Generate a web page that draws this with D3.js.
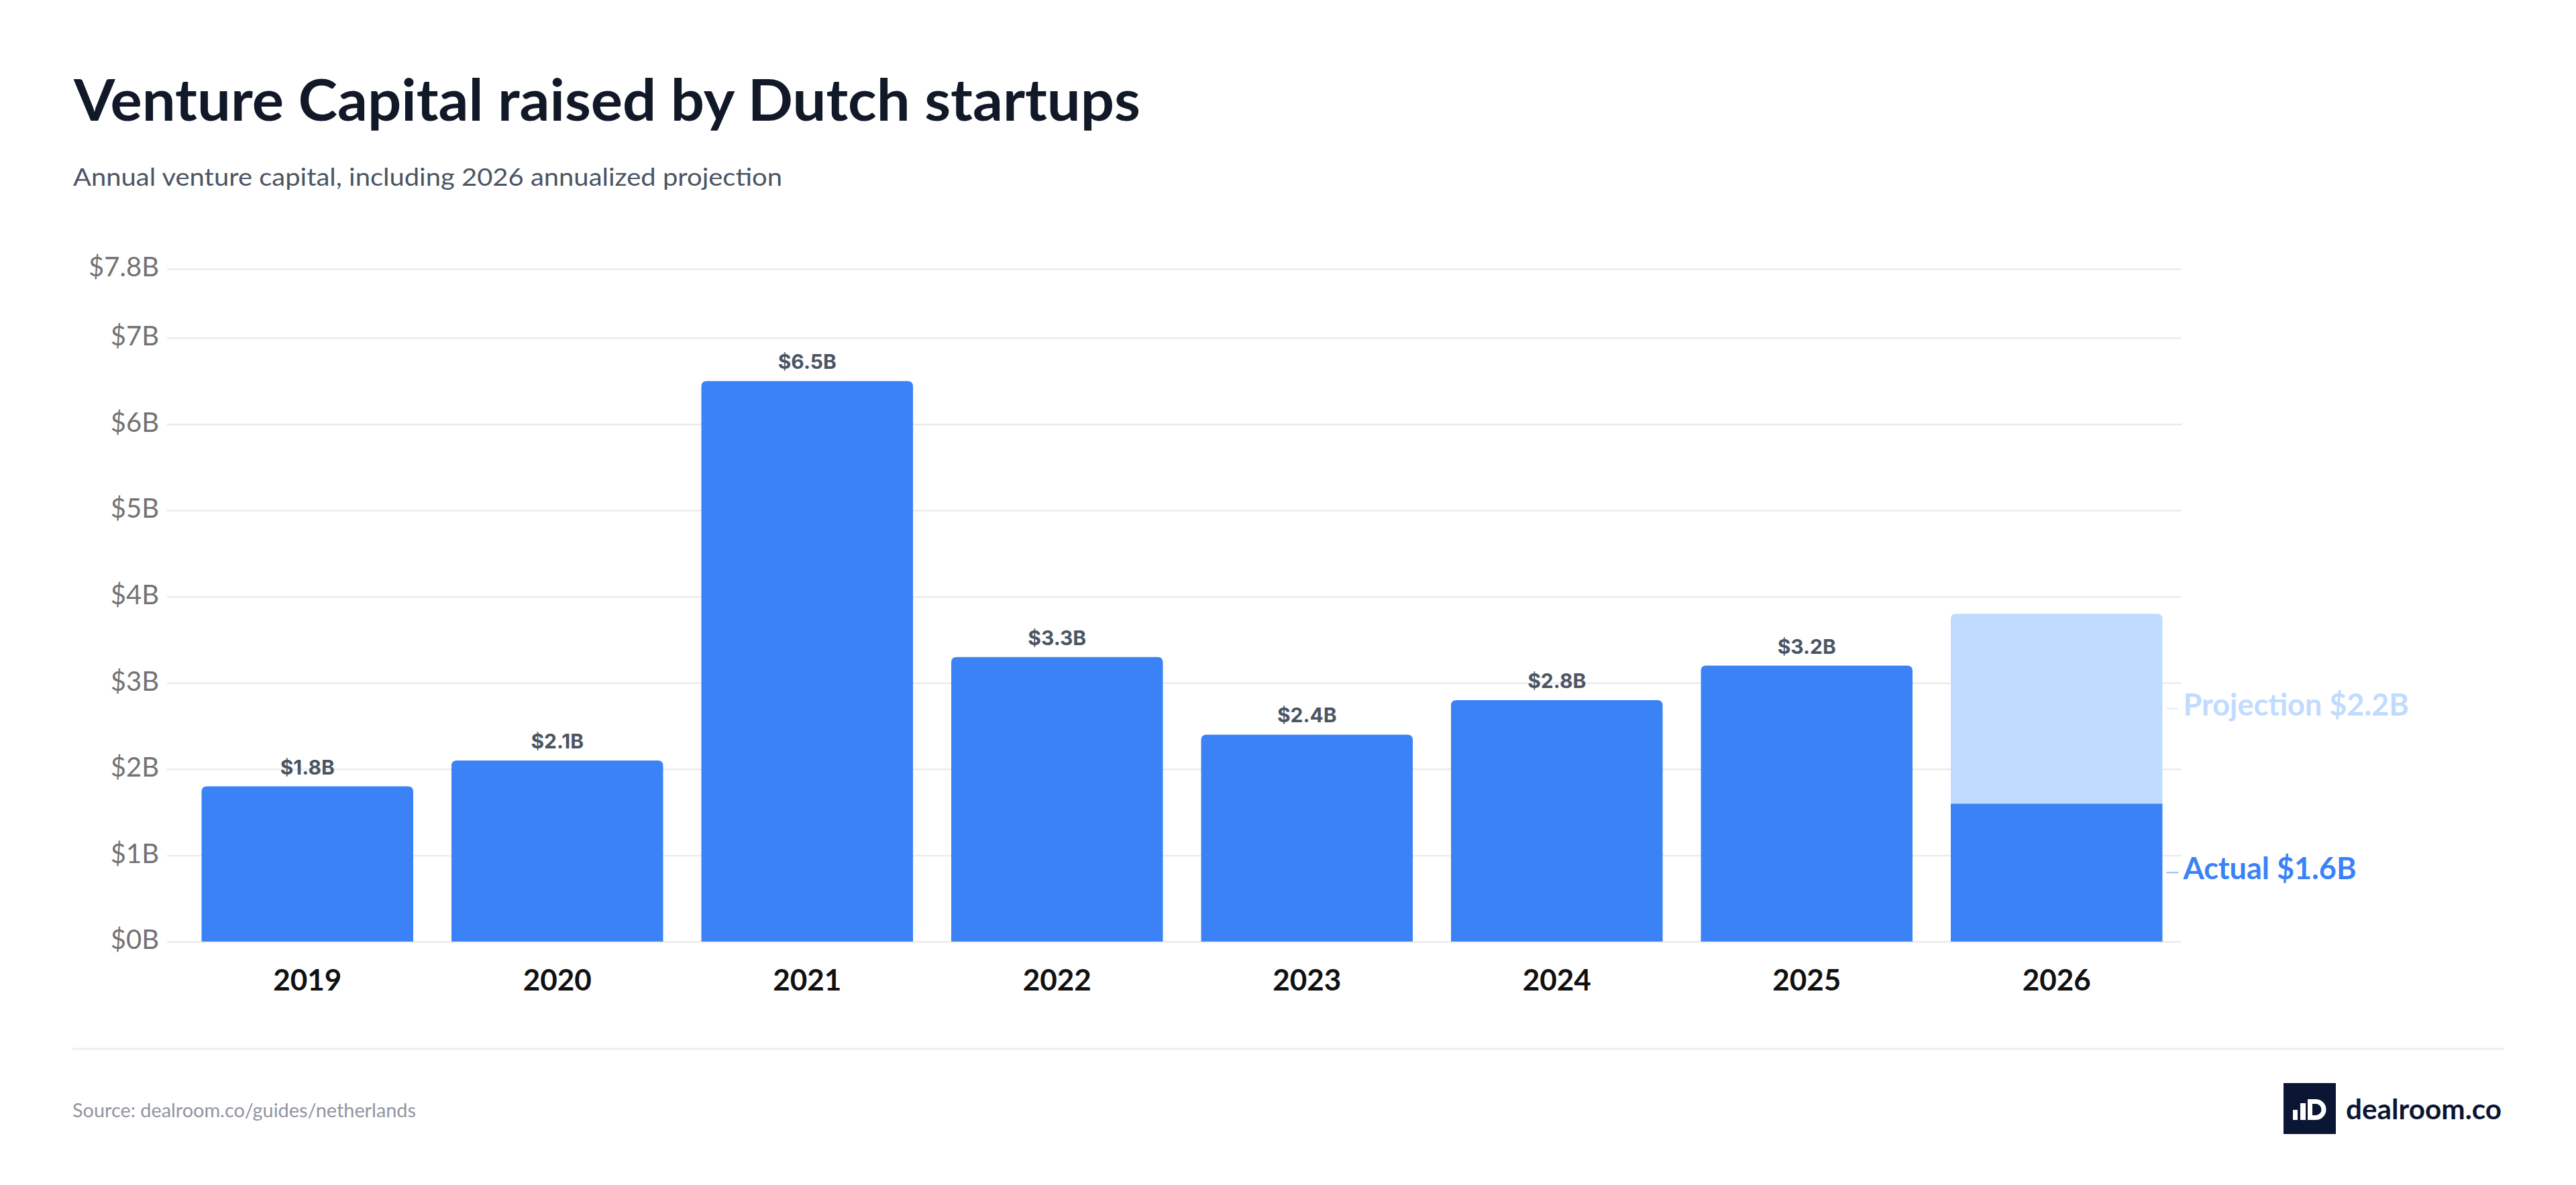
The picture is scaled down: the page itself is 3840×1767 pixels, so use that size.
<!DOCTYPE html>
<html>
<head>
<meta charset="utf-8">
<script src="https://cdn.jsdelivr.net/npm/d3@7"></script>
<style>
  body { margin: 0; background: #ffffff; }
  svg { display: block; }
</style>
</head>
<body>
<div id="chart"></div>
<script>
// values (billions of USD)
var years = ["2019", "2020", "2021", "2022", "2023", "2024", "2025", "2026"];
var actual = [1.8, 2.1, 6.5, 3.3, 2.4, 2.8, 3.2, 1.6];
var projection = [0, 0, 0, 0, 0, 0, 0, 2.2];
var yTicks = [0, 1, 2, 3, 4, 5, 6, 7, 7.8];
var yMax = 7.8;

var svgWidth = 3840;
var svgHeight = 1767;

var plot = { left: 249, right: 3252, top: 401, bottom: 1404 };

var svg = d3.select("#chart")
    .append("svg")
    .attr("width", svgWidth)
    .attr("height", svgHeight);

svg.append("rect")
    .attr("width", svgWidth)
    .attr("height", svgHeight)
    .attr("fill", "#ffffff");

// title + subtitle
svg.append("text")
    .attr("x", 110)
    .attr("y", 180)
    .attr("font-family", "Lato, sans-serif")
    .attr("font-weight", 700)
    .attr("font-size", 86)
    .attr("fill", "#111827")
    .attr("textLength", 1590)
    .attr("lengthAdjust", "spacingAndGlyphs")
    .text("Venture Capital raised by Dutch startups");

svg.append("text")
    .attr("x", 109)
    .attr("y", 277)
    .attr("font-family", "Lato, sans-serif")
    .attr("font-size", 37)
    .attr("fill", "#4b5563")
    .attr("textLength", 1057)
    .attr("lengthAdjust", "spacingAndGlyphs")
    .text("Annual venture capital, including 2026 annualized projection");

// scales
var xScale = d3.scaleBand()
    .domain(years)
    .range([272, plot.right])
    .paddingInner(0.153)
    .paddingOuter(0.0765);

var yScale = d3.scaleLinear()
    .domain([0, yMax])
    .range([plot.bottom, plot.top]);

// y axis with gridlines
var yAxis = d3.axisLeft(yScale)
    .tickValues(yTicks)
    .tickSize(-(plot.right - plot.left))
    .tickPadding(12)
    .tickFormat(function(d) { return "$" + d + "B"; });

var yAxisGroup = svg.append("g")
    .attr("transform", `translate(${plot.left},0)`)
    .call(yAxis);

yAxisGroup.select(".domain").remove();
yAxisGroup.selectAll(".tick line")
    .attr("stroke", "#ebebeb")
    .attr("stroke-width", 2.5);
yAxisGroup.selectAll(".tick text")
    .attr("font-family", "Lato, sans-serif")
    .attr("font-size", 40)
    .attr("fill", "#737373")
    .attr("dy", "0.27em");

// bar path with rounded top corners only
function topRoundedBar(x, y, w, h, r) {
    r = Math.min(r, h);
    return "M" + x + "," + (y + h) +
        "V" + (y + r) +
        "Q" + x + "," + y + " " + (x + r) + "," + y +
        "H" + (x + w - r) +
        "Q" + (x + w) + "," + y + " " + (x + w) + "," + (y + r) +
        "V" + (y + h) + "Z";
}

var barData = years.map(function(yr, i) {
    return { year: yr, actual: actual[i], projection: projection[i] };
});

var radius = 8;

// actual bars
svg.append("g")
    .selectAll("path")
    .data(barData)
    .enter()
    .append("path")
    .attr("fill", "#3b82f6")
    .attr("d", function(d) {
        var x0 = xScale(d.year);
        var y0 = yScale(d.actual);
        var h = yScale(0) - y0;
        if (d.projection > 0) {
            return "M" + x0 + "," + y0 + "h" + xScale.bandwidth() + "v" + h + "h" + (-xScale.bandwidth()) + "Z";
        }
        return topRoundedBar(x0, y0, xScale.bandwidth(), h, radius);
    });

// projection segment stacked on top
var projData = barData.filter(function(d) { return d.projection > 0; });

svg.append("g")
    .selectAll("path")
    .data(projData)
    .enter()
    .append("path")
    .attr("fill", "#bfdbfe")
    .attr("d", function(d) {
        var x0 = xScale(d.year);
        var yTop = yScale(d.actual + d.projection);
        var h = yScale(d.actual) - yTop;
        return topRoundedBar(x0, yTop, xScale.bandwidth(), h, radius);
    });

// value labels above the plain bars
svg.append("g")
    .selectAll("text")
    .data(barData.filter(function(d) { return d.projection === 0; }))
    .enter()
    .append("text")
    .attr("x", function(d) { return xScale(d.year) + xScale.bandwidth() / 2; })
    .attr("y", function(d) { return yScale(d.actual) - 18; })
    .attr("text-anchor", "middle")
    .attr("font-family", "Inter, sans-serif")
    .attr("font-weight", 700)
    .attr("font-size", 30)
    .attr("fill", "#4b5563")
    .text(function(d) { return "$" + d.actual + "B"; });

// side labels for the 2026 split bar
projData.forEach(function(d) {
    var xRight = xScale(d.year) + xScale.bandwidth();
    var segs = [
        { label: "Projection $" + d.projection + "B", lo: d.actual, hi: d.actual + d.projection, color: "#bfdbfe" },
        { label: "Actual $" + d.actual + "B", lo: 0, hi: d.actual, color: "#3b82f6" }
    ];
    segs.forEach(function(s) {
        var mid = (yScale(s.lo) + yScale(s.hi)) / 2;
        svg.append("line")
            .attr("x1", xRight + 6)
            .attr("x2", xRight + 24)
            .attr("y1", mid)
            .attr("y2", mid)
            .attr("stroke", s.color)
            .attr("stroke-opacity", 0.45)
            .attr("stroke-width", 2.5);
        svg.append("text")
            .attr("x", xRight + 31)
            .attr("y", mid + 10)
            .attr("font-family", "Lato, sans-serif")
            .attr("font-weight", 700)
            .attr("font-size", 45)
            .attr("fill", s.color)
            .text(s.label);
    });
});

// x axis (year labels)
var xAxis = d3.axisBottom(xScale)
    .tickSize(0)
    .tickPadding(42);

var xAxisGroup = svg.append("g")
    .attr("transform", `translate(0,${plot.bottom})`)
    .call(xAxis);

xAxisGroup.select(".domain").remove();
xAxisGroup.selectAll(".tick text")
    .attr("font-family", "Lato, sans-serif")
    .attr("font-weight", 700)
    .attr("font-size", 44)
    .attr("fill", "#111111");

// footer
svg.append("line")
    .attr("x1", 108)
    .attr("x2", 3733)
    .attr("y1", 1564)
    .attr("y2", 1564)
    .attr("stroke", "#eceef1")
    .attr("stroke-width", 3);

svg.append("text")
    .attr("x", 108)
    .attr("y", 1666)
    .attr("font-family", "Lato, sans-serif")
    .attr("font-size", 28)
    .attr("fill", "#9095a0")
    .attr("textLength", 512)
    .attr("lengthAdjust", "spacingAndGlyphs")
    .text("Source: dealroom.co/guides/netherlands");

// dealroom logo
var logo = svg.append("g");
logo.append("rect")
    .attr("x", 3404)
    .attr("y", 1615)
    .attr("width", 78)
    .attr("height", 76)
    .attr("fill", "#0b1634");
logo.append("rect")
    .attr("x", 3418).attr("y", 1655)
    .attr("width", 7).attr("height", 15)
    .attr("fill", "#ffffff");
logo.append("rect")
    .attr("x", 3429).attr("y", 1645)
    .attr("width", 8).attr("height", 25)
    .attr("fill", "#ffffff");
logo.append("path")
    .attr("fill", "#ffffff")
    .attr("fill-rule", "evenodd")
    .attr("d", "M3440,1639H3452A15.5,15.5 0 0 1 3452,1670H3440Z" +
               "M3447,1646H3452A8.5,8.5 0 0 1 3452,1663H3447Z");
logo.append("text")
    .attr("x", 3497)
    .attr("y", 1669)
    .attr("font-family", "Lato, sans-serif")
    .attr("font-weight", 700)
    .attr("font-size", 42)
    .attr("fill", "#0b1634")
    .attr("textLength", 232)
    .attr("lengthAdjust", "spacingAndGlyphs")
    .text("dealroom.co");
</script>
</body>
</html>
